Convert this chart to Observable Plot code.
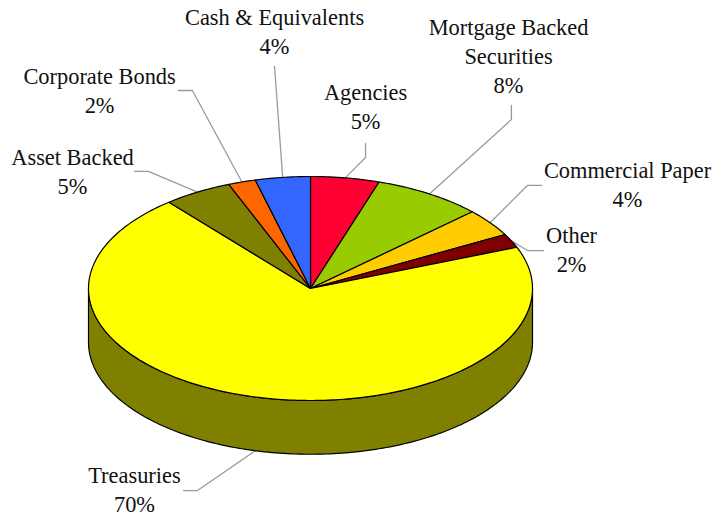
<!DOCTYPE html>
<html>
<head>
<meta charset="utf-8">
<script src="https://cdn.jsdelivr.net/npm/d3@7"></script>
<script src="https://cdn.jsdelivr.net/npm/@observablehq/plot@0.6"></script>
<style>
html,body{margin:0;padding:0;background:#fff}
svg{display:block}
</style>
</head>
<body>
<div id="chart"></div>
<script>
// Data, clockwise from twelve o'clock
const names = ["Agencies","Mortgage Backed\nSecurities","Commercial Paper","Other","Treasuries","Asset Backed","Corporate Bonds","Cash & Equivalents"];
const shares = [5,8,4,2,70,5,2,4];
const colors = ["#FF0033","#99CC00","#FFCC00","#800000","#FFFF00","#808000","#FF6600","#3366FF"];
const sideColor = "#808000";

// Layout in pie units (rim radius = 1, top-face projection set by the scales)
const depth = 0.48;
const labelX = [0.248,0.892,1.428,1.176,-0.793,-1.072,-0.950,-0.162];
const labelY = [1.612,2.0625,0.915,0.335,-1.808,1.031,1.754,2.28].map(y => y + 0.025);
const leaderEnd = [[0.248,1.295],[0.905,1.634],[1.041,0.920],[1.05,0.339],[-0.572,-1.804],[-0.793,1.045],[-0.595,1.768],[-0.162,1.982]];
const leaderElbow = [[0.248,1.170],[0.905,1.509],[0.977,0.920],[0.977,0.339],[-0.509,-1.804],[-0.730,1.045],[-0.532,1.768],null];

const total = d3.sum(shares);
const rim = (t, drop = 0) => ({x: Math.sin(t), y: Math.cos(t) - drop});
const cum = d3.cumsum(shares);
const slices = [];
const leaders = [];
const labels = [];
const arc = (a, b) => {
  const n = Math.max(2, Math.ceil(Math.abs(b - a) / (Math.PI / 180)));
  return d3.range(n + 1).map(i => a + (b - a) * i / n);
};
shares.forEach((v, i) => {
  const a = (cum[i] - v) / total * 2 * Math.PI;
  const b = cum[i] / total * 2 * Math.PI;
  slices.push({name: names[i], x: 0, y: 0});
  for (const t of arc(a, b)) slices.push({name: names[i], ...rim(t)});
  const mid = (a + b) / 2;
  // the leader of a slice whose mid-angle faces the viewer lands on the lower rim
  const drop = Math.cos(mid) < 0 ? depth : 0;
  const pts = [leaderEnd[i], leaderElbow[i]].filter(Boolean).map(([x, y]) => ({x, y}));
  for (const p of [...pts, rim(mid, drop)]) leaders.push({name: names[i], ...p});
  labels.push({x: labelX[i], y: labelY[i], text: `${names[i]}\n${v}%`});
});
const side = [
  ...arc(Math.PI / 2, 3 * Math.PI / 2).map(t => rim(t)),
  ...arc(3 * Math.PI / 2, Math.PI / 2).map(t => rim(t, depth))
];

const chart = Plot.plot({
  width: 713,
  height: 518,
  margin: 0,
  style: {background: "#fff", overflow: "visible"},
  x: {domain: [-1, 1], range: [88, 532], axis: null},
  y: {domain: [-1, 1], range: [400, 176], axis: null},
  color: {domain: names, range: colors},
  marks: [
    Plot.line(leaders, {x: "x", y: "y", z: "name", stroke: "#9a9a9a", strokeWidth: 1.3, curve: "linear"}),
    Plot.line(side, {x: "x", y: "y", fill: sideColor, stroke: "#000", strokeWidth: 1.2, curve: "linear-closed"}),
    Plot.line(slices, {x: "x", y: "y", z: "name", fill: "name", stroke: "#000", strokeWidth: 1.2, strokeLinejoin: "round", curve: "linear-closed"}),
    Plot.text(labels, {x: "x", y: "y", text: "text", fontFamily: "'Liberation Serif', serif", fontSize: 22.4, lineHeight: 1.295, fill: "#111", textAnchor: "middle"})
  ]
});
document.getElementById("chart").append(chart);
</script>
</body>
</html>
